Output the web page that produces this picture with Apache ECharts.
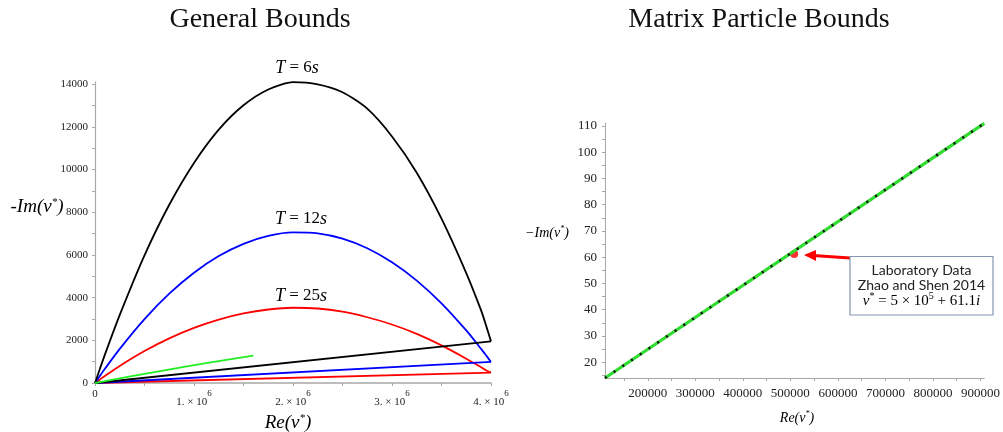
<!DOCTYPE html>
<html><head><meta charset="utf-8">
<script src="https://cdn.jsdelivr.net/npm/echarts@6/dist/echarts.min.js"></script>
<style>html,body{margin:0;padding:0;background:#fff}#c{width:1003px;height:432px}</style>
</head><body><div id="c"></div>
<script>
// ---- Left panel: General Bounds (x = Re(v*), y = -Im(v*)) ----
const blackArcT6 = [[0,0],[50000,671],[100000,1330],[250000,3190],[500000,5980],[750000,8350],[1000000,10310],[1250000,11870],[1500000,13010],[1750000,13750],[2000000,14090],[2250000,13990],[2500000,13620],[2750000,12850],[3000000,11550],[3250000,9850],[3500000,7700],[3750000,5150],[3900000,3400],[3950000,2700],[4000000,1950]];
const blueArcT12 = [[0,0],[50000,336],[100000,665],[250000,1600],[500000,2993],[750000,4183],[1000000,5166],[1250000,5946],[1500000,6519],[1750000,6889],[2000000,7052],[2250000,7012],[2500000,6765],[2750000,6315],[3000000,5658],[3250000,4798],[3500000,3731],[3750000,2461],[3900000,1600],[3950000,1297],[4000000,985]];
const redArcT25 = [[0,0],[50000,168],[100000,332],[250000,800],[500000,1496],[750000,2091],[1000000,2583],[1250000,2972],[1500000,3259],[1750000,3443],[2000000,3525],[2250000,3490],[2500000,3340],[2750000,3080],[3000000,2740],[3250000,2300],[3500000,1760],[3750000,1140],[3900000,740],[3950000,600],[4000000,490]];
const chordStart = [0,0];
const greenLine = [[0,0],[100000,88],[400000,345],[800000,675],[1200000,990],[1600000,1280]];
const leftXLabels = [0,1000000,2000000,3000000,4000000];
const leftXTicks = [0,500000,1000000,1500000,2000000,2500000,3000000,3500000,4000000];
const leftYLabels = [0,2000,4000,6000,8000,10000,12000,14000];
const leftYTicks = [0,1000,2000,3000,4000,5000,6000,7000,8000,9000,10000,11000,12000,13000,14000];
const curveLabels = ['T = 6s','T = 12s','T = 25s'];

// ---- Right panel: Matrix Particle Bounds ----
const boundLine = [[110000,14.0],[908000,111.0]];
const labPoint = [[508000,61.2]];
const rightXLabels = [200000,300000,400000,500000,600000,700000,800000,900000];
const rightXTicks = [150000,200000,250000,300000,350000,400000,450000,500000,550000,600000,650000,700000,750000,800000,850000,900000];
const rightYLabels = [20,30,40,50,60,70,80,90,100,110];
const rightYTicks = [15,20,25,30,35,40,45,50,55,60,65,70,75,80,85,90,95,100,105,110];

const serif = 'Liberation Serif';
const chart = echarts.init(document.getElementById('c'), null, {renderer:'canvas'});
const axisGray = '#a8a8a8';
const plain = function(v){ return String(v); };

function rtT(s){
  const m = s.match(/^T = (\d+)s$/);
  return '{i|T}{n| = ' + m[1] + '}{i|s}';
}
const richT = {i:{fontFamily:serif,fontStyle:'italic',fontSize:18,color:'#111'}, n:{fontFamily:serif,fontSize:17,color:'#111'}};
const richName = function(sz){return {i:{fontFamily:serif,fontStyle:'italic',fontSize:sz,color:'#111'}, s:{fontFamily:serif,fontStyle:'italic',fontSize:Math.round(sz*0.6),color:'#111',padding:[0,0,Math.round(sz*0.55),0]}};};

function arcSeries(data, color){
  return {type:'line', xAxisIndex:0, yAxisIndex:0, data:data, symbol:'none', smooth:0.25, lineStyle:{color:color,width:1.8}};
}
function chordSeries(data, color){
  return {type:'line', xAxisIndex:0, yAxisIndex:0, data:[chordStart, data[data.length-1]], symbol:'none', lineStyle:{color:color,width:1.8}};
}

chart.setOption({
  animation:false,
  backgroundColor:'#fff',
  grid:[
    {left:95, right:512, top:82, bottom:49, containLabel:false},
    {left:605, right:16, top:123.3, bottom:54, containLabel:false}
  ],
  xAxis:[
    {gridIndex:0, type:'value', min:0, max:4000000,
     axisLine:{lineStyle:{color:axisGray,width:1.5}},
     axisTick:{show:true, customValues:leftXTicks, length:3, lineStyle:{color:axisGray}},
     splitLine:{show:false},
     axisLabel:{customValues:leftXLabels, margin:6, color:'#222', fontFamily:serif, fontSize:11,
       formatter:function(v){ if(v===0) return '{z|0}'; return '{m|'+(v/1e6)+'. × 10}{s|6}'; },
       rich:{z:{fontFamily:serif,fontSize:11,color:'#222',padding:[0,0,8,0]}, m:{fontFamily:serif,fontSize:11,color:'#222'}, s:{fontFamily:serif,fontSize:9,color:'#222',padding:[0,0,18,0]}}}},
    {gridIndex:1, type:'value', min:110000, max:908000,
     axisLine:{lineStyle:{color:axisGray,width:1}},
     axisTick:{show:true, customValues:rightXTicks, length:3, lineStyle:{color:axisGray}},
     splitLine:{show:false},
     axisLabel:{customValues:rightXLabels, margin:9, color:'#222', fontFamily:serif, fontSize:13, formatter:plain}}
  ],
  yAxis:[
    {gridIndex:0, type:'value', min:0, max:14100,
     axisLine:{show:true, lineStyle:{color:axisGray,width:1.2}},
     axisTick:{show:true, customValues:leftYTicks, length:3, lineStyle:{color:axisGray}},
     splitLine:{show:false},
     axisLabel:{customValues:leftYLabels, margin:7, color:'#222', fontFamily:serif, fontSize:11, formatter:plain}},
    {gridIndex:1, type:'value', min:14, max:111,
     axisLine:{show:true, lineStyle:{color:axisGray,width:1}},
     axisTick:{show:true, customValues:rightYTicks, length:3, lineStyle:{color:axisGray}},
     splitLine:{show:false},
     axisLabel:{customValues:rightYLabels, margin:8, color:'#222', fontFamily:serif, fontSize:13, formatter:plain}}
  ],
  series:[
    arcSeries(redArcT25,'#ff0000'), chordSeries(redArcT25,'#ff0000'),
    arcSeries(blueArcT12,'#0000ff'), chordSeries(blueArcT12,'#0000ff'),
    arcSeries(blackArcT6,'#000000'), chordSeries(blackArcT6,'#000000'),
    {type:'line', xAxisIndex:0, yAxisIndex:0, data:greenLine, symbol:'none', smooth:0.2, lineStyle:{color:'#22ee22',width:1.8}},
    {type:'line', xAxisIndex:1, yAxisIndex:1, data:boundLine, symbol:'none', lineStyle:{color:'#2fdc2f',width:3.2}},
    {type:'line', xAxisIndex:1, yAxisIndex:1, data:boundLine, symbol:'none', lineStyle:{color:'#111',width:2.6,type:[2,8.5]}},
    {type:'scatter', xAxisIndex:1, yAxisIndex:1, data:labPoint, symbolSize:8, itemStyle:{color:'#ff0000'}}
  ],
  graphic:[
    {type:'text', x:260, y:20, style:{text:'General Bounds', font:'28px "Liberation Serif"', fill:'#111', align:'center', verticalAlign:'middle'}},
    {type:'text', x:759, y:20, style:{text:'Matrix Particle Bounds', font:'28px "Liberation Serif"', fill:'#111', align:'center', verticalAlign:'middle'}},
    {type:'text', x:297, y:68, style:{text:rtT(curveLabels[0]), rich:richT, align:'center', verticalAlign:'middle'}},
    {type:'text', x:301, y:219, style:{text:rtT(curveLabels[1]), rich:richT, align:'center', verticalAlign:'middle'}},
    {type:'text', x:301, y:296, style:{text:rtT(curveLabels[2]), rich:richT, align:'center', verticalAlign:'middle'}},
    {type:'text', x:37, y:207, style:{text:'{i|-Im(ν}{s|*}{i|)}', rich:richName(19), align:'center', verticalAlign:'middle'}},
    {type:'text', x:288, y:423, style:{text:'{i|Re(ν}{s|*}{i|)}', rich:richName(19), align:'center', verticalAlign:'middle'}},
    {type:'text', x:547, y:233, style:{text:'{i|−Im(ν}{s|*}{i|)}', rich:richName(14), align:'center', verticalAlign:'middle'}},
    {type:'text', x:797, y:418, style:{text:'{i|Re(ν}{s|*}{i|)}', rich:richName(14), align:'center', verticalAlign:'middle'}},
    {type:'line', shape:{x1:850, y1:258, x2:813, y2:255.5}, style:{stroke:'#ff0000', lineWidth:3.2}},
    {type:'polygon', shape:{points:[[804,255],[816,250],[816,261]]}, style:{fill:'#ff0000'}},
    {type:'rect', shape:{x:850, y:256.5, width:143, height:58.5}, style:{fill:'#fff', stroke:'#8497b0', lineWidth:1.2}},
    {type:'text', x:921.5, y:270, style:{text:'Laboratory Data', font:'14px Lato', fill:'#222', align:'center', verticalAlign:'middle'}},
    {type:'text', x:921.5, y:285.5, style:{text:'Zhao and Shen 2014', font:'14px Lato', fill:'#222', align:'center', verticalAlign:'middle'}},
    {type:'text', x:921.5, y:301, style:{text:'{i|ν}{s|*}{n| = 5 × 10}{s|5}{n| + 61.1}{i|i}', align:'center', verticalAlign:'middle',
      rich:{i:{fontFamily:serif,fontStyle:'italic',fontSize:15,color:'#111'}, n:{fontFamily:serif,fontSize:15,color:'#111'}, s:{fontFamily:serif,fontSize:10,color:'#111',padding:[0,0,9,0]}}}}
  ]
});
</script>
</body></html>
